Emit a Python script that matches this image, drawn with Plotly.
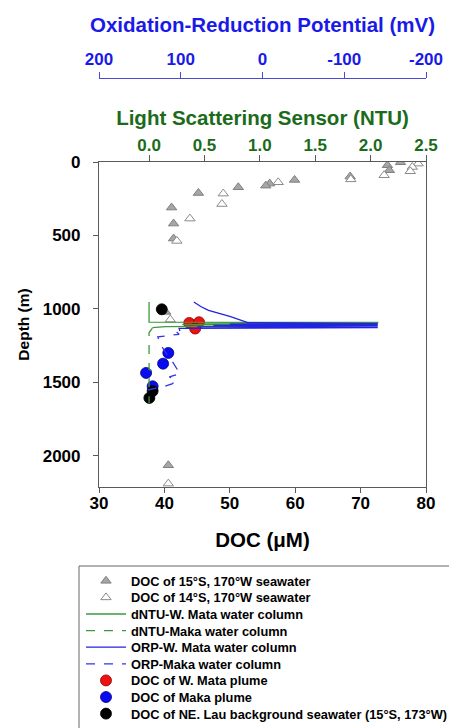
import plotly.graph_objects as go

# ---------------- data ----------------
doc15_x = [76.1, 74.1, 74.4, 68.4, 59.9, 56.1, 55.5, 51.3, 45.2, 41.1, 41.4, 41.4, 40.2, 40.6]
doc15_depth = [2, 22, 56, 99, 122, 147, 161, 172, 211, 310, 419, 521, 1020, 2063]

doc14_x = [78.8, 77.9, 77.6, 73.6, 68.5, 57.4, 49.0, 48.8, 43.9, 41.9, 40.9, 40.6]
doc14_depth = [11, 34, 63, 90, 118, 138, 215, 286, 385, 537, 1072, 2188]

mata_ntu = [0.0, 0.0, 2.07, 0.5, 2.05, 0.3, 1.95, 0.15, 0.03]
mata_ntu_depth = [952, 1090, 1092, 1096, 1100, 1106, 1112, 1120, 1127]

maka_ntu = [0.03, 0.0, 0.0, 0.02, 0.0, 0.0]
maka_ntu_depth = [1130, 1160, 1410, 1418, 1426, 1640]

mata_orp = [84, 75, 66, 40, 18, -141, 40, -141, 60, -141, 80, -141, 102, 101]
mata_orp_depth = [952, 985, 1009, 1050, 1093, 1099, 1103, 1108, 1112, 1117, 1122, 1127, 1132, 1150]

maka_orp = [105, 102, 128, 125, 118, 110, 101, 114, 106, 110, 120, 146]
maka_orp_depth = [1156, 1172, 1190, 1240, 1300, 1360, 1440, 1462, 1480, 1508, 1526, 1558]

mata_doc_x = [43.8, 45.3, 44.7]
mata_doc_depth = [1095, 1090, 1133]

maka_doc_x = [40.6, 39.8, 37.2, 38.2]
maka_doc_depth = [1299, 1372, 1435, 1526]

lau_doc_x = [39.6, 38.2, 37.7]
lau_doc_depth = [1002, 1558, 1605]

doc_ticks = [30, 40, 50, 60, 70, 80]
depth_ticks = [0, 500, 1000, 1500, 2000]
ntu_ticks = [0.0, 0.5, 1.0, 1.5, 2.0, 2.5]
orp_ticks = [200, 100, 0, -100, -200]
orp_ticktext = ["200", "100", "0", "-100", "-200"]

# ---------------- style ----------------
FONT = "Arial, Liberation Sans, sans-serif"
GREEN_TXT = "#1b6b1b"
BLUE_TXT = "#1a1ae8"
AX = "#5a5a5a"

# page body has an 8px margin: figure is placed at (8, 8) in the window
W, H = 449, 720
ML, MT = 91, 70
PLOT_W = 327
PAPER_H = H - MT           # margin bottom = 0 -> paper height 650


def py(abs_y):
    """window y pixel -> paper fraction"""
    return (728 - abs_y) / PAPER_H


def px(abs_x):
    return (abs_x - 99) / PLOT_W


fig = go.Figure()

legA, legB = "legend", "legend2"

fig.add_trace(go.Scatter(
    x=doc15_x, y=doc15_depth, mode="markers", name="DOC of 15°S, 170°W seawater",
    marker=dict(symbol="triangle-up", size=9, color="#a6a6a6", line=dict(color="#7f7f7f", width=1)),
    xaxis="x", yaxis="y", legend=legA, legendgroup="g1", legendrank=1))
fig.add_trace(go.Scatter(
    x=doc14_x, y=doc14_depth, mode="markers", name="DOC of 14°S, 170°W seawater",
    marker=dict(symbol="triangle-up", size=9, color="white", line=dict(color="#8a8a8a", width=1)),
    xaxis="x", yaxis="y", legend=legB, legendgroup="g2", legendrank=2))
fig.add_trace(go.Scatter(
    x=mata_orp, y=mata_orp_depth, mode="lines", name="ORP-W. Mata water column",
    line=dict(color="#2323e0", width=1.3), xaxis="x3", yaxis="y", legend=legA, legendgroup="g5", legendrank=5))
fig.add_trace(go.Scatter(
    x=maka_orp, y=maka_orp_depth, mode="lines", name="ORP-Maka water column",
    line=dict(color="#3535e6", width=1.3, dash="dash"), xaxis="x3", yaxis="y", legend=legB, legendgroup="g6", legendrank=6))
fig.add_trace(go.Scatter(
    x=mata_ntu, y=mata_ntu_depth, mode="lines", name="dNTU-W. Mata water column",
    line=dict(color="#3c993c", width=1.3), xaxis="x2", yaxis="y", legend=legA, legendgroup="g3", legendrank=3))
fig.add_trace(go.Scatter(
    x=maka_ntu, y=maka_ntu_depth, mode="lines", name="dNTU-Maka water column",
    line=dict(color="#3c993c", width=1.3, dash="dash"), xaxis="x2", yaxis="y", legend=legB, legendgroup="g4", legendrank=4))
fig.add_trace(go.Scatter(
    x=mata_doc_x, y=mata_doc_depth, mode="markers", name="DOC of W. Mata plume",
    marker=dict(symbol="circle", size=11, color="#f01010", line=dict(color="#8a0000", width=0.8)),
    xaxis="x", yaxis="y", legend=legA, legendgroup="g7", legendrank=7))
fig.add_trace(go.Scatter(
    x=maka_doc_x, y=maka_doc_depth, mode="markers", name="DOC of Maka plume",
    marker=dict(symbol="circle", size=11, color="#0a0af0", line=dict(color="#000080", width=0.8)),
    xaxis="x", yaxis="y", legend=legB, legendgroup="g8", legendrank=8))
fig.add_trace(go.Scatter(
    x=lau_doc_x, y=lau_doc_depth, mode="markers", name="DOC of NE. Lau background seawater (15°S, 173°W)",
    marker=dict(symbol="circle", size=11, color="black", line=dict(color="black", width=0.8)),
    xaxis="x", yaxis="y", legend=legA, legendgroup="g9", legendrank=9))

tickfont = dict(family=FONT, size=17, color="black", weight="bold")
legfont = dict(family=FONT, size=12.8, color="black", weight="bold")
ROW = 16.6
GAP = 2 * ROW - (12.8 * 1.3 + 3)

common_leg = dict(xanchor="left", yanchor="top", borderwidth=0, bgcolor="rgba(0,0,0,0)",
                  font=legfont, itemwidth=40, traceorder="grouped", tracegroupgap=GAP)

fig.update_layout(
    width=W, height=H,
    margin=dict(l=ML, r=W - ML - PLOT_W, t=MT, b=0, autoexpand=False),
    paper_bgcolor="white", plot_bgcolor="white",
    font=dict(family=FONT),
    showlegend=True,
    legend=dict(x=px(81), y=py(566), **common_leg),
    legend2=dict(x=px(81), y=py(566 + ROW), **common_leg),
    xaxis=dict(
        domain=[0, 1], range=[30, 80], tickvals=doc_ticks, anchor="y",
        showline=True, linecolor=AX, linewidth=1.2, ticks="outside", ticklen=5, tickcolor=AX,
        showgrid=False, zeroline=False, tickfont=tickfont, automargin=False, ticklabelstandoff=-5,
        title=dict(text="DOC (μM)", font=dict(family=FONT, size=20.5, color="black", weight="bold"), standoff=21),
    ),
    yaxis=dict(
        domain=[py(487), py(162)], range=[2211, 0], tickvals=depth_ticks, anchor="x",
        showline=True, linecolor=AX, linewidth=1.2, mirror=True, ticks="outside", ticklen=5, tickcolor=AX,
        showgrid=False, zeroline=False, tickfont=tickfont, automargin=False, ticklabelstandoff=9,
        title=dict(text="Depth (m)", font=dict(family=FONT, size=15.5, color="black", weight="bold"), standoff=9),
    ),
    xaxis2=dict(
        overlaying="x", side="top", anchor="y", range=[-0.452, 2.5], tickvals=ntu_ticks,
        tickformat=".1f", showline=True, linecolor=AX, linewidth=1.2, ticks="outside", ticklen=6, tickcolor=AX,
        showgrid=False, zeroline=False, automargin=False, ticklabelstandoff=-3,
        tickfont=dict(family=FONT, size=17, color=GREEN_TXT, weight="bold"),
        title=dict(text="Light Scattering Sensor (NTU)", font=dict(family=FONT, size=20.5, color=GREEN_TXT, weight="bold"), standoff=4),
    ),
    xaxis3=dict(
        overlaying="x", side="top", anchor="free", position=1, range=[200, -200],
        tickvals=orp_ticks, ticktext=orp_ticktext,
        showline=True, linecolor="#4a4ad8", linewidth=1.2, ticks="outside", ticklen=6, tickcolor="#4a4ad8",
        showgrid=False, zeroline=False, automargin=False,
        tickfont=dict(family=FONT, size=17, color=BLUE_TXT, weight="bold"),
        title=dict(text="Oxidation-Reduction Potential (mV)", font=dict(family=FONT, size=20.5, color=BLUE_TXT, weight="bold"), standoff=10),
    ),
    shapes=[dict(type="rect", xref="paper", yref="paper",
                 x0=px(79), x1=px(475), y0=py(566), y1=py(745),
                 line=dict(color="#666666", width=1), fillcolor="rgba(0,0,0,0)", layer="above")],
)

fig.write_html("out.html")
